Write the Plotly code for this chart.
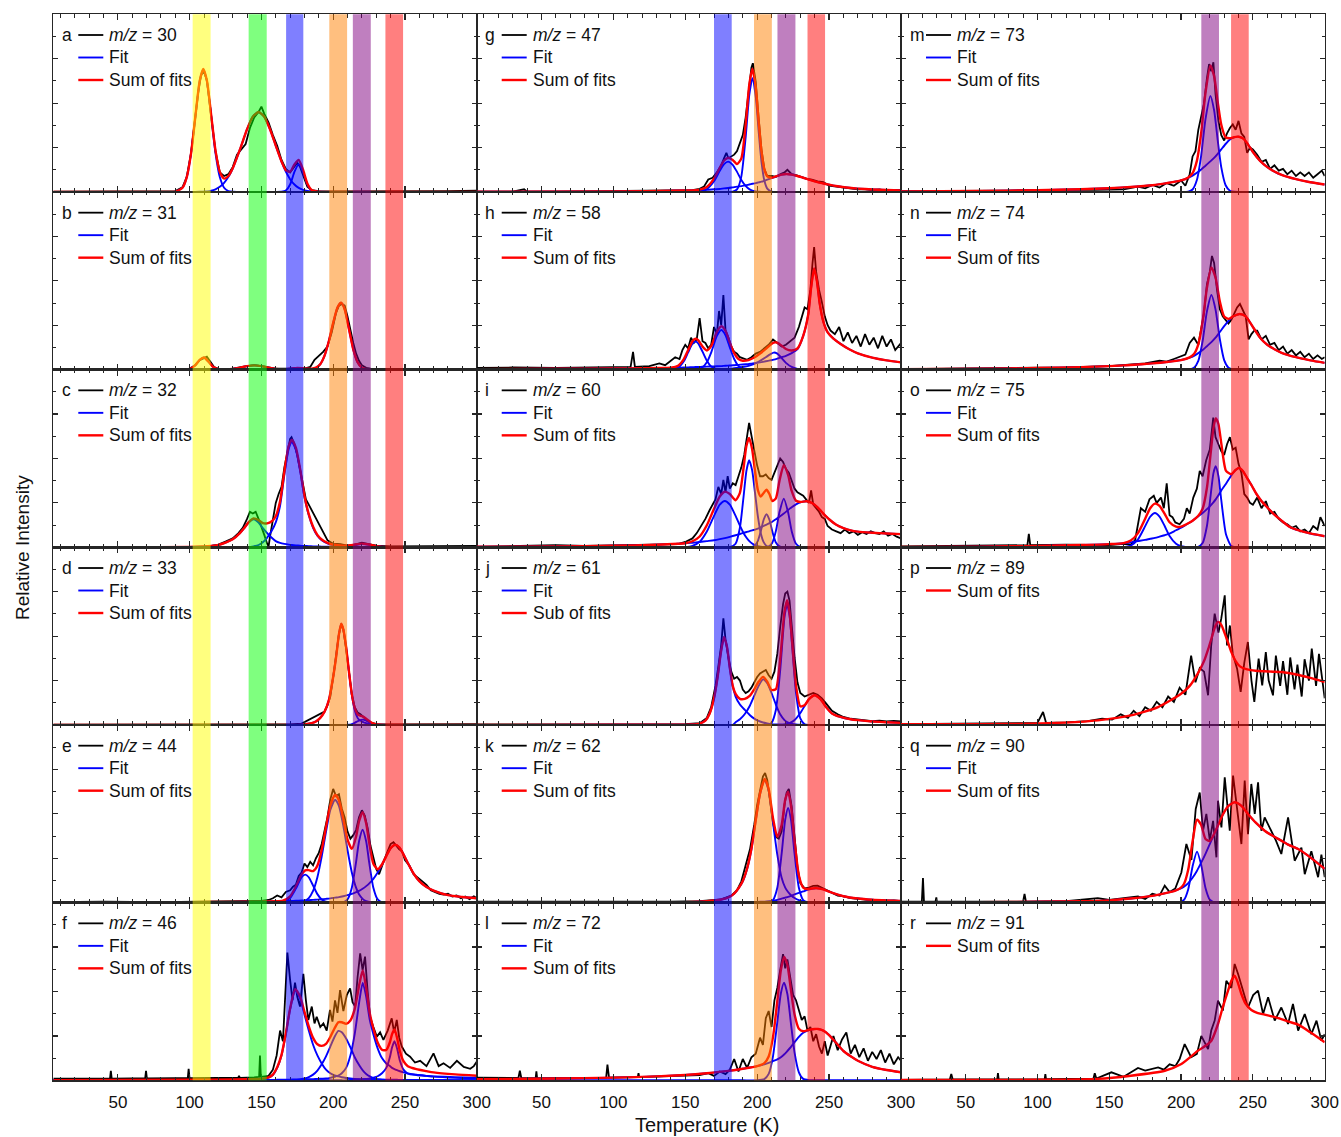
import numpy as np
import plotly.graph_objects as go

# ---------------- data (temperature in K, intensity in % of panel height) ----------------
# panel a, m/z 30
A_T = [5, 60, 85, 90, 95, 98, 101, 104, 107, 109.5, 112, 115, 118, 121, 124, 127, 130, 135, 140, 144, 148, 152, 156, 160, 164, 167, 170, 173, 176, 179, 182, 185, 190, 200, 250, 300]
A_FIT1 = [0, 0, 0, 0.2, 2.4, 8.4, 21.9, 42.6, 62.4, 69, 62.4, 42.6, 21.9, 8.4, 2.4, 0.5, 0.1, 0, 0, 0, 0, 0, 0, 0, 0, 0, 0, 0, 0, 0, 0, 0, 0, 0, 0, 0]
A_FIT2 = [0, 0, 0, 0, 0, 0, 0, 0, 0.1, 0.2, 0.3, 0.7, 1.5, 2.9, 5.1, 8.5, 13.2, 23.8, 35.3, 42.4, 45, 42.4, 35.3, 26.1, 17.1, 11.5, 7.2, 4.2, 2.3, 1.2, 0.6, 0.3, 0.1, 0, 0, 0]
A_FIT3 = [0, 0, 0, 0, 0, 0, 0, 0, 0, 0, 0, 0, 0, 0, 0, 0, 0, 0, 0, 0, 0, 0, 0, 0, 0.1, 0.8, 4.2, 11.3, 15.7, 11.3, 4.2, 0.8, 0, 0, 0, 0]
A_DATA_T = [5, 50, 85, 90, 95, 98, 101, 104, 106, 108, 110, 112, 115, 118, 121, 124, 127, 130, 133, 136, 139, 142, 145, 148, 150, 152, 155, 158, 161, 164, 167, 170, 173, 175, 177, 179, 182, 185, 190, 200, 250, 280, 300]
A_DATA = [0.2, 0.2, 0.3, 0.5, 2.6, 8.5, 22, 43, 56, 66, 67.5, 63, 44, 23, 11, 9, 10, 14, 21, 24, 27, 36, 42, 45, 48, 44, 39, 32, 26, 18, 13, 11, 14, 16.5, 14, 10, 3, 1, 0.5, 0.3, 0.2, 0.5, 0.8]

# panel b, m/z 31
B_T = [5, 60, 95, 100, 104, 107, 110, 113, 116, 120, 125, 130, 135, 140, 145, 150, 155, 160, 165, 170, 175, 180, 185, 188, 191, 194, 197, 200, 203, 205.5, 208, 211, 214, 217, 220, 224, 228, 235, 250, 300]
B_FIT1 = [0, 0, 0, 0.4, 2.6, 5.5, 6.8, 4.6, 1.8, 0.2, 0, 0, 0, 0, 0, 0, 0, 0, 0, 0, 0, 0, 0, 0, 0, 0, 0, 0, 0, 0, 0, 0, 0, 0, 0, 0, 0, 0, 0, 0]
B_FIT2 = [0, 0, 0, 0, 0, 0, 0, 0, 0, 0, 0.1, 0.4, 1.1, 2.0, 2.4, 2.0, 1.1, 0.4, 0.1, 0, 0, 0, 0, 0, 0, 0, 0, 0, 0, 0, 0, 0, 0, 0, 0, 0, 0, 0, 0, 0]
B_FIT3 = [0, 0, 0, 0, 0, 0, 0, 0, 0, 0, 0, 0, 0, 0, 0, 0, 0, 0, 0.1, 0.5, 1.0, 0.7, 0.2, 0.1, 0, 0, 0, 0, 0, 0, 0, 0, 0, 0, 0, 0, 0, 0, 0, 0]
B_FIT4 = [0, 0, 0, 0, 0, 0, 0, 0, 0, 0, 0, 0, 0, 0, 0, 0, 0, 0, 0, 0, 0, 0, 0.3, 1.0, 3.1, 7.9, 16.1, 26.3, 35, 37.7, 34.0, 22.9, 11.4, 4.2, 1.1, 0.1, 0, 0, 0, 0]
B_DATA_T = [5, 60, 95, 100, 104, 107, 110, 112, 114, 117, 120, 130, 140, 145, 150, 160, 170, 175, 180, 184, 187, 190, 193, 196, 199, 202, 204, 206, 208, 210, 212, 214, 216, 218, 220, 223, 226, 230, 250, 270, 290, 300]
B_DATA = [0.3, 0.2, 0.2, 0.6, 2.5, 5.3, 6.5, 7.3, 5, 1.5, 0.4, 0.5, 2.0, 2.5, 2.0, 0.5, 0.6, 1.0, 0.6, 1.5, 5.5, 7.5, 10, 13, 21, 32, 36, 37, 36, 30, 22, 15, 9, 5, 2.5, 1.0, 0.5, 0.3, 0.2, 0.4, 0.5, 0.3]

# panel c, m/z 32
C_T = [5, 60, 100, 110, 115, 120, 125, 130, 135, 138, 141, 144.5, 148, 151, 154, 157, 160, 163, 166, 169, 171.2, 174, 177, 180, 183, 186, 189, 192, 196, 200, 205, 210, 215, 220, 225, 230, 240, 260, 300]
C_FIT1 = [0, 0, 0.2, 0.5, 0.8, 1.3, 2.6, 4.5, 8.0, 10.8, 14, 15.8, 14, 10.8, 8, 5.5, 3.5, 2.5, 1.9, 1.5, 1.3, 1.1, 0.9, 0.75, 0.65, 0.55, 0.45, 0.4, 0.35, 0.3, 0.25, 0.2, 0.15, 0.1, 0.1, 0.1, 0, 0, 0]
C_FIT2 = [0, 0, 0, 0, 0, 0, 0, 0, 0, 0, 0, 0.5, 1.3, 2.8, 5.5, 9, 14, 23.4, 40.8, 55.4, 59.3, 55, 43, 28.2, 18, 11, 6.5, 4, 2.2, 1.3, 0.8, 0.5, 0.3, 0.2, 0.1, 0, 0, 0, 0]
C_FIT3 = [0, 0, 0, 0, 0, 0, 0, 0, 0, 0, 0, 0, 0, 0, 0, 0, 0, 0, 0, 0, 0, 0, 0, 0, 0, 0, 0, 0, 0, 0, 0.05, 0.3, 1.1, 1.8, 1.4, 0.6, 0, 0, 0]
C_DATA_T = [5, 60, 100, 110, 115, 120, 125, 130, 134, 137, 140, 142, 144, 146, 148, 150, 152, 154, 155, 156, 158, 160, 162, 164, 166, 168, 170, 171, 173, 175, 177, 179, 181, 183, 185, 187, 189, 191, 193, 196, 200, 205, 210, 215, 220, 225, 230, 240, 260, 280, 300]
C_DATA = [0.2, 0.2, 0.2, 0.4, 0.8, 1.5, 3.3, 5, 8, 11, 16, 20, 19, 20, 16, 12, 7, 2, 0.5, 6, 16, 25, 30, 34, 45, 54, 61, 62, 58, 52, 44, 34, 27, 24, 21, 18, 15, 12, 9, 4, 2, 1.8, 1.0, 1.5, 2.6, 1.8, 1.0, 0.5, 0.6, 0.8, 0.8]

# panel d, m/z 33
D_T = [5, 60, 150, 175, 180, 185, 188, 191, 194, 197, 200, 202, 204, 205.6, 207, 209, 211, 213, 215, 217, 218, 220.5, 223, 226, 229, 233, 240, 260, 300]
D_FIT1 = [0, 0, 0, 0, 0.3, 1.0, 2, 4, 7.5, 14, 27, 38, 51, 57, 54, 44, 30, 17, 8.5, 4, 3, 1.8, 1.0, 0.5, 0.3, 0.1, 0, 0, 0]
D_FIT2 = [0, 0, 0, 0, 0, 0, 0, 0, 0, 0, 0, 0, 0, 0, 0, 0, 0.1, 0.5, 1.2, 2.1, 2.5, 3.0, 2.5, 1.2, 0.3, 0.05, 0, 0, 0]
D_DATA_T = [5, 60, 150, 170, 178, 182, 185, 188, 191, 194, 196, 198, 200, 202, 204, 205.6, 207, 209, 211, 213, 215, 217, 219, 221, 223, 226, 230, 240, 260, 280, 300]
D_DATA = [0.2, 0.2, 0.2, 0.3, 0.8, 2.5, 3.5, 5, 6.5, 7.5, 11, 16, 27, 38, 51, 56.5, 54, 43, 30, 17, 10, 7, 6, 4.5, 3, 1.5, 0.5, 0.3, 0.3, 0.4, 0.4]

# panel e, m/z 44
E_T = [5, 60, 100, 130, 150, 160, 165, 170, 174, 178, 180.5, 183, 186, 189, 192, 195, 198, 201.4, 204, 207, 210, 213, 216, 218, 220.5, 223, 225, 228, 231, 234, 237, 240, 243.3, 246, 249, 252, 256, 260, 265, 270, 280, 290, 300]
E_FIT1 = [0, 0, 0, 0, 0, 0, 0.3, 2.6, 7.9, 14.3, 15.8, 14.3, 9.6, 4.8, 1.8, 0.5, 0.1, 0, 0, 0, 0, 0, 0, 0, 0, 0, 0, 0, 0, 0, 0, 0, 0, 0, 0, 0, 0, 0, 0, 0, 0, 0, 0]
E_FIT2 = [0, 0, 0, 0, 0, 0, 0, 0, 0.1, 0.4, 1.1, 2.6, 6.6, 14.3, 25.9, 39.9, 52.2, 58, 54.5, 43.5, 29.5, 17.0, 8.3, 4.7, 2.1, 0.8, 0.4, 0.1, 0, 0, 0, 0, 0, 0, 0, 0, 0, 0, 0, 0, 0, 0, 0]
E_FIT3 = [0, 0, 0, 0, 0, 0, 0, 0, 0, 0, 0, 0, 0, 0, 0, 0, 0, 0, 0, 0.2, 1.8, 8.4, 23.1, 34.4, 41, 34.4, 23.1, 8.4, 1.8, 0.2, 0, 0, 0, 0, 0, 0, 0, 0, 0, 0, 0, 0, 0]
E_FIT4 = [0.09, 0.16, 0.26, 0.41, 0.6, 0.75, 0.85, 0.96, 1.08, 1.2, 1.3, 1.4, 1.55, 1.72, 1.9, 2.14, 2.4, 2.8, 3.1, 3.6, 4.2, 4.9, 5.9, 6.6, 7.8, 9.3, 10.7, 13.4, 17.0, 21.3, 26.2, 30.6, 32.6, 31.2, 27.2, 22.3, 16.4, 12.1, 8.8, 6.8, 4.2, 3.2, 2.5]
E_DATA_T = [5, 40, 80, 100, 120, 140, 150, 155, 158, 161, 164, 167, 170, 172, 174, 176, 178, 180, 182, 184, 186, 188, 190, 192, 194, 196, 198, 200, 202, 204, 206, 208, 210, 212, 214, 216, 218, 220, 222, 224, 226, 228, 230, 232, 234, 236, 238, 240, 242, 244, 246, 248, 250, 253, 256, 259, 262, 265, 268, 271, 274, 277, 280, 283, 286, 289, 292, 295, 298, 300]
E_DATA = [0.3, 0.5, 0.3, 0.5, 0.6, 0.8, 1.0, 1.5, 2.5, 4, 3, 6, 7, 9, 10, 15, 17, 22, 20, 23, 21, 25, 28, 33, 40, 48, 58, 64, 60, 61, 53, 48, 40, 36, 38, 41, 48, 52, 49, 42, 32, 25, 19, 16, 21, 25, 29, 33, 34, 32, 30, 29, 24, 21, 16, 14, 12, 10, 7, 6, 5, 4.5, 5, 3.5, 4, 2.5, 3.5, 2, 3.5, 2.5]

# panel f, m/z 46
F_T = [5, 100, 150, 155, 158, 161, 164, 167, 170, 173.5, 177, 180, 183, 186, 189, 192, 195, 198, 201, 203.6, 206, 209, 212, 215, 218.5, 220.6, 223, 225.5, 228, 231, 234, 237, 239.5, 241, 242.7, 244.5, 246.5, 249, 252, 258, 265, 270, 285, 300]
F_FIT1 = [0.1, 0.2, 0.7, 1.5, 3, 7, 14, 26, 40, 50.8, 46, 37, 28, 20, 14, 9.5, 6, 4, 2.8, 2.2, 1.7, 1.3, 1.0, 0.8, 0.65, 0.6, 0.55, 0.5, 0.45, 0.4, 0.35, 0.33, 0.31, 0.3, 0.3, 0.28, 0.27, 0.25, 0.23, 0.2, 0.18, 0.16, 0.13, 0.1]
F_FIT2 = [0, 0, 0, 0, 0, 0, 0, 0, 0, 0, 0.5, 1.0, 1.8, 3.2, 5.5, 9, 13.5, 19, 24.5, 27.8, 27, 23.5, 18.5, 13, 8, 5.6, 3.6, 2.2, 1.2, 0.6, 0.4, 0.2, 0.1, 0.1, 0, 0, 0, 0, 0, 0, 0, 0, 0, 0]
F_FIT3 = [0, 0.1, 0.2, 0.2, 0.25, 0.3, 0.3, 0.35, 0.4, 0.45, 0.5, 0.55, 0.6, 0.7, 0.8, 0.9, 1.0, 1.4, 2.0, 2.7, 4, 7, 14, 26, 46, 55, 47, 34, 26, 18, 12.5, 9.5, 8, 7, 6.3, 5.7, 5.1, 4.5, 3.9, 3.1, 2.5, 2.1, 1.4, 1.0]
F_FIT4 = [0, 0, 0, 0, 0, 0, 0, 0, 0, 0, 0, 0, 0, 0, 0, 0, 0, 0, 0, 0, 0, 0, 0.2, 0.3, 0.5, 0.6, 0.8, 1.0, 1.5, 2.3, 4, 7, 13, 18.5, 22, 18, 11, 6, 3.8, 3.0, 2.5, 2.2, 1.8, 1.5]
F_DATA_T = [5, 30, 44.5, 45.1, 45.7, 60, 69, 69.6, 70.2, 90, 98.7, 99.3, 99.9, 120, 133.8, 134.4, 135, 145, 148.4, 149, 149.6, 155, 158, 160.6, 163, 165, 168.1, 170, 171.7, 173.4, 175, 176.9, 179.2, 181, 182.7, 185.1, 187, 188.5, 191, 193.2, 195.5, 197.8, 199.5, 201.3, 203, 204.8, 207.1, 209.5, 211.8, 213.5, 215.3, 217, 218.8, 220.5, 222.2, 224, 225.7, 228, 230.4, 232.7, 235, 238, 240.8, 242.5, 244.3, 246, 247.8, 250.7, 253.6, 257, 260.6, 265, 269.9, 273.5, 276.9, 281.5, 286.2, 291, 295.5, 298, 300]
F_DATA = [1.0, 1.0, 1.0, 5.4, 1.0, 1.1, 1.1, 5.4, 1.1, 1.2, 1.2, 6.4, 1.2, 1.3, 1.3, 2.6, 1.3, 1.6, 2, 13.9, 2, 2.5, 6, 14, 28, 22, 71.9, 56.5, 45, 55, 47, 41.5, 60, 45, 34, 41.5, 32, 35.8, 30, 32, 28, 39.6, 33, 45, 38, 50.8, 39, 48, 51.8, 44, 41.5, 58, 71.5, 62, 69.6, 50, 35.8, 30, 24.6, 27, 22.7, 28, 34.9, 27, 34, 24, 19, 15, 13.3, 10, 11, 8, 15.2, 8, 9.6, 7, 11, 7.5, 6.5, 8, 10.5]

# panel g, m/z 47
G_T = [5, 100, 150, 155, 160, 165, 170, 174, 177, 179.8, 183, 186, 189, 192, 194.5, 196.7, 199, 201, 203, 205, 207, 210, 214, 217, 220.3, 224, 228, 232, 236, 240, 245, 250, 256, 262, 270, 280, 290, 300]
G_FIT1 = [0, 0, 0, 0, 0.2, 1.6, 6.0, 11.9, 15.7, 17.1, 15.3, 11.3, 6.8, 3.4, 1.6, 0.8, 0.3, 0.1, 0, 0, 0, 0, 0, 0, 0, 0, 0, 0, 0, 0, 0, 0, 0, 0, 0, 0, 0, 0]
G_FIT2 = [0, 0, 0, 0, 0, 0, 0, 0, 0, 0, 0.1, 1.4, 8.8, 30.8, 54.5, 64, 53.6, 34.5, 17, 6.4, 1.9, 0.2, 0, 0, 0, 0, 0, 0, 0, 0, 0, 0, 0, 0, 0, 0, 0, 0]
G_FIT3 = [0.1, 0.3, 0.8, 0.9, 1.1, 1.2, 1.5, 1.7, 2.0, 2.2, 2.6, 3.0, 3.3, 3.7, 4.2, 4.6, 5.0, 5.4, 5.8, 6.3, 6.9, 7.8, 9.0, 9.8, 10.1, 9.8, 9.0, 8.0, 7.0, 6.0, 5.0, 4.1, 3.2, 2.5, 1.9, 1.4, 1.1, 0.9]
G_DATA_T = [5, 30, 38, 40, 60, 100, 140, 155, 160, 163, 166, 169, 172, 175, 177, 178.6, 180, 182, 184, 186, 188, 190, 192, 194, 196, 197, 199, 201, 203, 205, 207, 210, 213, 216, 219, 221, 224, 227, 230, 234, 238, 242, 246, 250, 255, 260, 265, 270, 275, 280, 285, 290, 295, 300]
G_DATA = [0.2, 0.2, 1.5, 0.2, 0.2, 0.4, 0.7, 1.0, 1.8, 3, 7, 8, 11, 15, 19, 22, 19, 20, 21, 23, 27, 32, 42, 58, 70, 72.5, 62, 42, 24, 13, 9, 9, 8.5, 10, 11, 12.5, 10, 9.5, 8.5, 7.5, 7, 6, 5.5, 3.5, 3, 2.5, 2.3, 1.5, 1.5, 1.0, 1.4, 0.6, 1.2, 1.0]

# panel h, m/z 58
H_T = [5, 60, 100, 120, 130, 140, 145, 149, 152, 155, 157.1, 159, 162, 165, 168, 172, 175.1, 178, 181, 184, 187, 190, 194, 198, 202, 206, 209, 211.5, 214, 217, 220, 224, 228, 232, 235.5, 237.5, 239.6, 241.5, 243.5, 246, 249, 253, 258, 264, 270, 280, 290, 300]
H_FIT1 = [0, 0, 0, 0, 0, 0.1, 1.1, 4.7, 9.7, 14.6, 15.8, 14.8, 10.1, 5.0, 1.8, 0.3, 0, 0, 0, 0, 0, 0, 0, 0, 0, 0, 0, 0, 0, 0, 0, 0, 0, 0, 0, 0, 0, 0, 0, 0, 0, 0, 0, 0, 0, 0, 0, 0]
H_FIT2 = [0, 0, 0, 0, 0, 0, 0, 0, 0, 0, 0.1, 0.3, 1.3, 4.1, 9.6, 19, 22.3, 19.4, 12.5, 6.0, 2.1, 0.6, 0.1, 0, 0, 0, 0, 0, 0, 0, 0, 0, 0, 0, 0, 0, 0, 0, 0, 0, 0, 0, 0, 0, 0, 0, 0, 0]
H_FIT3 = [0, 0, 0, 0, 0, 0, 0, 0, 0, 0, 0, 0, 0, 0, 0, 0, 0.1, 0.2, 0.4, 0.8, 1.2, 1.5, 2.1, 3.2, 5.0, 7.0, 8.6, 9.6, 9.0, 6.5, 3.8, 1.5, 0.4, 0, 0, 0, 0, 0, 0, 0, 0, 0, 0, 0, 0, 0, 0, 0]
H_FIT4 = [0.3, 0.5, 0.6, 0.8, 0.9, 1.0, 1.1, 1.2, 1.3, 1.4, 1.45, 1.5, 1.6, 1.7, 1.8, 1.9, 2.0, 2.2, 2.3, 2.5, 2.7, 2.9, 3.2, 3.6, 4.1, 4.7, 5.2, 5.6, 6.2, 7.0, 7.8, 9.3, 11.5, 19, 31, 46, 57, 50, 37, 27, 21, 17.5, 14.5, 11.5, 9.2, 6.8, 5.2, 4.1]
H_DATA_T = [5, 30, 60, 90, 105, 112, 113.7, 115, 125, 132, 136, 140, 143, 146, 148, 150, 152, 154, 156, 158, 160, 162, 164, 166, 168, 170, 172, 173.5, 175, 176.5, 178, 180, 182, 184, 186, 188, 190, 193, 196, 199, 202, 205, 208, 211, 214, 217, 220, 223, 226, 229, 231, 233, 235, 237, 238.5, 239.6, 241, 243, 245, 247, 249, 251, 254, 257, 260, 263, 266, 269, 272, 275, 278, 281, 284, 287, 290, 293, 296, 300]
H_DATA = [1.0, 1.2, 1.0, 1.3, 1.2, 1.5, 10, 1.5, 2, 3.5, 2.5, 5, 7, 6, 11, 14, 12, 18, 15, 17, 29, 16, 15, 12, 14, 24, 20, 33, 25, 42, 22, 18, 13, 10, 9, 7, 6.5, 5.5, 7, 9, 10, 12, 14, 17, 15, 13, 14, 16, 18, 24, 30, 35, 34, 45, 60, 69, 55, 45, 38, 30, 25, 22, 20, 24, 16, 21, 15, 19, 13, 20, 14, 18, 12, 19, 13, 17, 11, 15]

# panel i, m/z 60
I_T = [5, 60, 100, 130, 145, 150, 155, 160, 165, 170, 174, 177.5, 181, 185, 188, 190.5, 192.5, 194.4, 196.5, 198.5, 200.5, 202.5, 204.5, 206.5, 208.5, 210.5, 213, 215.5, 218.5, 221.5, 224, 227, 230, 234.3, 238, 242, 246, 250, 255, 260, 265, 270, 280, 290, 300]
I_FIT1 = [0, 0, 0, 0, 0, 0.1, 0.8, 3.1, 8.9, 17.7, 24.0, 26.1, 24.0, 17.7, 12.2, 8.1, 5.5, 3.6, 2.1, 1.2, 0.7, 0.4, 0.2, 0.1, 0, 0, 0, 0, 0, 0, 0, 0, 0, 0, 0, 0, 0, 0, 0, 0, 0, 0, 0, 0, 0]
I_FIT2 = [0, 0, 0, 0, 0, 0, 0, 0, 0, 0, 0, 0, 0.1, 2.0, 11, 28.2, 42.9, 49, 43.4, 30.7, 17.4, 7.9, 2.9, 0.8, 0.2, 0, 0, 0, 0, 0, 0, 0, 0, 0, 0, 0, 0, 0, 0, 0, 0, 0, 0, 0, 0]
I_FIT3 = [0, 0, 0, 0, 0, 0, 0, 0, 0, 0, 0, 0, 0, 0, 0, 0, 0, 0, 0.2, 1.0, 3.6, 9.0, 15.5, 18.6, 15.5, 9.0, 2.7, 0.5, 0, 0, 0, 0, 0, 0, 0, 0, 0, 0, 0, 0, 0, 0, 0, 0, 0]
I_FIT4 = [0, 0, 0, 0, 0, 0, 0, 0, 0, 0, 0, 0, 0, 0, 0, 0, 0, 0, 0, 0, 0, 0, 0, 0.1, 0.7, 2.6, 9.1, 19.7, 27.4, 19.7, 9.1, 2.0, 0.2, 0, 0, 0, 0, 0, 0, 0, 0, 0, 0, 0, 0]
I_FIT5 = [0.3, 0.5, 0.9, 1.4, 2.0, 2.2, 2.6, 3.0, 3.5, 4.0, 4.6, 5.2, 5.9, 6.8, 7.5, 8.1, 8.6, 9.0, 9.5, 10.0, 10.5, 11.3, 12.0, 12.8, 13.6, 14.4, 15.8, 17.2, 19.0, 21.0, 22.6, 24.2, 25.3, 25.9, 25.0, 22.5, 19, 15.8, 12.7, 10.8, 9.5, 8.8, 8.2, 7.8, 7.4]
I_DATA_T = [5, 40, 60, 80, 100, 130, 145, 150, 155, 158, 161, 164, 167, 169, 171, 173, 175, 176.5, 178, 179.5, 181, 183, 185, 187, 189, 191, 193, 194.4, 196, 198, 200, 202, 204, 206, 208, 210, 212, 214, 216, 218, 220, 222, 224, 226, 228, 230, 232, 234, 236, 237.5, 239, 241, 243, 245, 247, 249, 252, 255, 258, 261, 264, 267, 270, 273, 276, 279, 282, 285, 288, 291, 294, 297, 300]
I_DATA = [0.3, 0.8, 1.2, 0.8, 1.0, 1.3, 1.8, 3, 5, 8, 12, 16, 21, 24, 27, 34, 30, 38, 31, 40, 33, 36, 35, 40, 45, 52, 62, 70, 63, 54, 46, 40, 40, 41, 39, 38, 42, 46, 50, 48, 44, 42, 37, 33, 31, 30, 29, 27, 25, 32, 24, 22, 20, 17, 16, 12, 10, 9, 8, 10, 8, 9, 7, 8.5, 7.5, 9, 8, 7.5, 9, 6.5, 7.5, 6, 5]

# panel j, m/z 61
J_T = [5, 100, 150, 155, 160, 164, 167, 170, 172.5, 175, 177, 179, 181, 183, 185, 188, 191.4, 195, 198, 201, 204.1, 207, 210, 213, 216, 219, 220.8, 222.5, 224.5, 227, 230, 233, 236, 240, 244, 248, 252, 258, 265, 270, 280, 290, 300]
J_FIT1 = [0, 0.1, 0.2, 0.3, 0.8, 2.5, 6.5, 15, 27, 42, 49.5, 44, 32, 22, 16, 11.5, 8.5, 5.5, 3.6, 2.3, 1.4, 0.9, 0.5, 0.3, 0.2, 0.1, 0.1, 0, 0, 0, 0, 0, 0, 0, 0, 0, 0, 0, 0, 0, 0, 0, 0]
J_FIT2 = [0, 0, 0, 0, 0, 0, 0, 0, 0, 0, 0, 0, 0, 0, 1.5, 3.2, 6.2, 11, 16.5, 22, 25.7, 23.5, 18, 11.5, 6, 2.7, 1.6, 1.0, 0.6, 0.3, 0.1, 0, 0, 0, 0, 0, 0, 0, 0, 0, 0, 0, 0]
J_FIT3 = [0, 0, 0, 0, 0, 0, 0, 0, 0, 0, 0, 0, 0, 0, 0, 0, 0, 0, 0, 0, 0, 0, 1.2, 8.4, 30.7, 60.7, 68, 61.5, 42.5, 18.1, 3.7, 0.4, 0, 0, 0, 0, 0, 0, 0, 0, 0, 0, 0]
J_FIT4 = [0, 0, 0, 0, 0, 0, 0, 0, 0, 0, 0, 0, 0, 0, 0, 0, 0, 0, 0, 0, 0, 0, 0, 0, 0.1, 0.3, 0.6, 1.0, 1.9, 3.6, 6.7, 10.7, 14.5, 16.7, 14.5, 10, 6.5, 4.5, 3.2, 2.7, 2.0, 1.5, 1.2]
J_DATA_T = [5, 100, 150, 160, 165, 168, 171, 173, 175, 176.5, 178, 180, 182, 184, 186, 188, 190, 192, 194, 196, 198, 200, 202, 204, 206, 208, 210, 212, 214, 216, 218, 219.5, 221, 222.5, 224, 226, 228, 230, 233, 236, 239, 242, 245, 248, 252, 256, 260, 265, 270, 275, 280, 285, 290, 295, 300]
J_DATA = [0.3, 0.3, 0.5, 1.0, 4, 10, 22, 33, 45, 60, 48, 38, 30, 26, 27, 25, 20, 18, 19, 21, 24, 27, 29, 30, 31, 28, 26, 30, 40, 55, 68, 74, 75, 70, 55, 38, 24, 18, 16, 17, 18, 17, 15, 12, 8, 6, 4.5, 3.5, 3, 2.5, 2.2, 2.5, 2.0, 2.3, 2.0]

# panel k, m/z 62
K_T = [5, 100, 150, 165, 175, 180, 184, 187, 190, 193, 196, 199, 202, 205.3, 208, 211, 214, 217, 219.5, 221.5, 223.5, 226, 229, 232, 235, 238, 241, 246, 250, 255, 260, 270, 280, 290, 300]
K_FIT1 = [0, 0.1, 0.3, 0.8, 1.8, 3, 5, 8, 12, 19, 30, 46, 61, 69, 63, 45, 27, 14, 8.5, 6, 4.2, 2.6, 1.4, 0.8, 0.4, 0.2, 0.1, 0, 0, 0, 0, 0, 0, 0, 0]
K_FIT2 = [0, 0, 0, 0, 0, 0, 0, 0, 0, 0, 0, 0, 0, 0, 0.1, 1.4, 8.4, 27.4, 46.7, 53.3, 46.7, 27.4, 8.4, 1.4, 0.1, 0, 0, 0, 0, 0, 0, 0, 0, 0, 0]
K_FIT3 = [0, 0, 0, 0, 0, 0, 0.1, 0.1, 0.2, 0.2, 0.3, 0.4, 0.5, 0.6, 0.8, 1.1, 1.6, 2.3, 2.8, 3.2, 3.8, 4.6, 5.5, 6.3, 7.2, 7.8, 8.1, 7.5, 6.2, 4.8, 3.6, 2.3, 1.6, 1.2, 0.9]
K_DATA_T = [5, 60, 100, 140, 160, 175, 182, 186, 189, 192, 195, 198, 200, 202, 204, 205.5, 207, 209, 211, 213, 215, 217, 219, 220.5, 222, 224, 226, 228, 230, 233, 236, 239, 242, 245, 248, 252, 256, 260, 265, 270, 275, 280, 285, 290, 295, 300]
K_DATA = [0.5, 0.3, 0.5, 0.5, 0.8, 1.8, 4, 7, 12, 21, 30, 44, 55, 63, 71, 73, 69, 57, 45, 37, 36, 40, 55, 62, 64, 54, 35, 20, 11, 8, 8.5, 9.5, 9.6, 8.5, 7, 5.5, 4, 3.5, 2.5, 2.2, 1.8, 1.3, 1.5, 1.0, 1.2, 0.9]

# panel l, m/z 72
L_T = [5, 60, 100, 130, 150, 165, 180, 190, 200, 205, 208, 211, 214, 216.5, 218.7, 221, 223.5, 226, 229, 232, 236, 240, 242.4, 246, 250, 255, 260, 265, 270, 280, 290, 300]
L_FIT1 = [0, 0, 0, 0, 0, 0, 0, 0, 0, 0.7, 3.6, 13.5, 32.7, 49, 55, 48.6, 31.8, 15.6, 4.5, 0.8, 0.1, 0, 0, 0, 0, 0, 0, 0, 0, 0, 0, 0]
L_FIT2 = [0.6, 1.0, 1.5, 2.2, 3.0, 4.0, 5.3, 6.5, 8.0, 9.0, 9.8, 10.8, 11.8, 13, 14.5, 16.5, 18.8, 21.5, 24.5, 26.8, 28.3, 28.9, 28.9, 28, 25.5, 21, 16.5, 13.5, 11, 7.6, 5.8, 4.5]
L_DATA_T = [5, 20, 34, 35, 36, 46, 46.5, 47, 60, 80, 95, 95.9, 97, 117, 117.5, 118, 140, 160, 166, 170, 174, 178, 181, 184, 187, 190, 193, 196, 199, 202, 204, 206, 208, 210, 212, 214, 216, 218, 219.5, 221, 223, 225, 227, 229, 231, 233, 235, 237, 239, 241, 243, 245, 247, 249, 251, 253, 256, 259, 262, 265, 268, 271, 274, 277, 280, 283, 286, 289, 292, 295, 298, 300]
L_DATA = [1.5, 1.2, 1.3, 5.4, 1.3, 1.2, 5.0, 1.2, 1.3, 1.5, 1.5, 8.8, 1.5, 1.8, 4, 1.8, 2.5, 3, 4, 2.5, 5, 3.5, 6, 12, 5, 12, 7, 13, 15, 24, 20, 35, 39, 30, 45, 52, 62, 71, 63, 68, 58, 48, 45, 40, 34, 36, 28, 30, 22, 26, 19, 15, 22, 14, 20, 25, 17, 23, 27, 15, 20, 13, 18, 11, 16, 12, 17, 10, 15, 9, 13, 11]

# panel m, m/z 73
M_T = [5, 60, 100, 130, 150, 165, 180, 190, 200, 205, 208, 211, 214, 217, 220.4, 223, 225.5, 228, 231, 234, 237, 240.1, 243, 246, 250, 255, 260, 265, 270, 280, 290, 300]
M_FIT1 = [0, 0, 0, 0, 0, 0, 0, 0, 0, 0.2, 1.4, 6.7, 20.5, 41, 54, 46, 29.2, 13.8, 3.8, 0.7, 0.1, 0, 0, 0, 0, 0, 0, 0, 0, 0, 0, 0]
M_FIT2 = [0.3, 0.6, 1.0, 1.5, 2.1, 2.8, 3.8, 5.0, 6.5, 8.0, 9.2, 10.8, 12.7, 14.8, 17.2, 19.2, 21.5, 24, 27, 29.5, 30.8, 31.1, 30.2, 27.5, 22.5, 17.5, 14, 11.5, 9.6, 7.2, 5.5, 4.2]
M_DATA_T = [5, 40, 80, 100, 120, 140, 160, 170, 175, 180, 185, 190, 195, 200, 203, 206, 208, 210, 212, 214, 216, 218, 219.5, 221, 222.5, 224, 226, 228, 230, 232, 234, 236, 238, 240, 242, 244, 246, 248, 250, 253, 256, 259, 262, 265, 268, 271, 274, 277, 280, 283, 286, 289, 292, 295, 298, 300]
M_DATA = [0.5, 0.5, 0.8, 1.2, 1.0, 1.2, 1.5, 3.0, 2.0, 4.0, 2.5, 5.0, 3.5, 6.5, 3.5, 10, 20, 23, 35, 42, 50, 64, 72, 68, 73, 55, 40, 32, 29, 33, 36, 38, 35, 40, 33, 31, 22, 25, 24, 21, 17, 18, 13, 15, 12, 13, 10, 12, 9, 11, 9, 11, 8, 10, 12, 9]

# panel n, m/z 74
N_T = [5, 60, 100, 130, 150, 165, 180, 190, 200, 206, 209, 212, 215, 218, 221.1, 224, 227, 230, 233, 236, 240.8, 245, 250, 255, 260, 265, 270, 280, 290, 300]
N_FIT1 = [0, 0, 0, 0, 0, 0, 0, 0, 0, 0.1, 1.0, 4.9, 16.1, 32.8, 42, 33.8, 17.1, 5.4, 1.1, 0.1, 0, 0, 0, 0, 0, 0, 0, 0, 0, 0]
N_FIT2 = [0.3, 0.5, 0.9, 1.4, 2.0, 2.6, 3.5, 4.3, 5.4, 6.8, 7.8, 9.3, 11, 13.2, 15.5, 18, 21.2, 24.5, 27.5, 29.8, 31.3, 30, 24, 18, 14, 11.5, 9.5, 7, 5.2, 3.8]
N_DATA_T = [5, 40, 80, 120, 150, 165, 175, 185, 190, 195, 200, 203, 206, 209, 212, 214, 216, 218, 220, 221.5, 223, 225, 227, 229, 231, 233, 235, 237, 239, 241, 243, 245, 247, 249, 251, 253, 256, 259, 262, 265, 268, 271, 274, 277, 280, 283, 286, 289, 292, 295, 298, 300]
N_DATA = [0.3, 0.5, 0.6, 1.2, 2.0, 3.0, 3.5, 5.0, 4.5, 6.0, 7.5, 8.5, 15, 18, 14, 22, 32, 48, 55, 64, 60, 45, 34, 30, 28, 26, 28, 32, 35, 37, 33, 30, 17, 20, 22, 22, 17, 19, 14, 15, 11, 13, 9, 11, 8, 10, 7, 9, 6, 8, 6, 7]

# panel o, m/z 75
O_T = [5, 60, 100, 130, 150, 160, 165, 170, 175, 178.5, 181.8, 185, 188.5, 192, 196.5, 200, 203, 208, 212, 215, 218, 220.5, 222.5, 224.1, 226, 228, 231.3, 235, 238, 240.5, 243, 246, 249, 252.5, 256, 260, 264.2, 270, 275.8, 282, 290, 300]
O_FIT1 = [0, 0, 0, 0, 0, 0.1, 1.0, 4.5, 11.9, 17.2, 19.3, 17.3, 12.1, 6.4, 2.0, 0.6, 0.2, 0, 0, 0, 0, 0, 0, 0, 0, 0, 0, 0, 0, 0, 0, 0, 0, 0, 0, 0, 0, 0, 0, 0, 0, 0]
O_FIT2 = [0, 0, 0, 0, 0, 0, 0, 0, 0, 0, 0, 0, 0, 0, 0, 0, 0, 0, 0.3, 2.4, 12, 28.7, 41.6, 45.6, 40.1, 26.5, 7.2, 0.7, 0.1, 0, 0, 0, 0, 0, 0, 0, 0, 0, 0, 0, 0, 0]
O_FIT3 = [0.2, 0.4, 0.8, 1.3, 1.8, 2.3, 2.8, 3.5, 4.2, 4.8, 5.3, 6.0, 6.8, 7.7, 9.6, 11, 12.5, 15, 17.5, 19.3, 21.5, 23.5, 25.3, 27, 29.3, 32, 35.8, 40.5, 43.5, 44.7, 43, 39, 35, 30, 26, 22.5, 19, 15, 11.4, 9.5, 7.8, 6.2]
O_DATA_T = [5, 40, 80, 93, 94, 95, 120, 150, 160, 165, 168, 170, 172, 175, 178, 181, 183, 186, 188, 190, 192, 194, 196, 199, 202, 204, 206, 208.5, 211, 213, 215, 217.5, 220, 222.4, 224, 226, 228, 230, 232, 234, 236, 238, 240, 242, 244, 246, 248, 250, 253, 256, 259, 262, 265, 268, 271, 274, 277, 280, 283, 286, 289, 292, 295, 297, 300]
O_DATA = [0.5, 0.8, 1.0, 1.2, 7.5, 1.2, 1.5, 1.2, 2.0, 1.5, 4, 14, 22, 20, 27, 29, 25, 28, 22, 36, 18, 17, 14, 13, 16, 22, 19, 28, 33, 43, 40, 49, 55, 73, 62, 58, 54, 52, 58, 62, 55, 56, 47, 42, 30, 28, 25, 24, 28, 22, 26, 19, 20, 16, 14, 13, 11, 12, 9, 10, 8, 12, 10, 17, 12]

# panel p, m/z 89 (sum of fits only)
P_SUM_T = [5, 60, 95, 119, 142, 165, 184, 200, 206, 212, 216, 219, 222, 224, 225.7, 227.5, 229.2, 232, 235, 238, 241, 246, 252, 258, 264, 270, 281, 290, 300]
P_SUM = [0.4, 0.5, 0.7, 1.3, 2.6, 5.4, 10.1, 17.6, 22, 29.5, 36, 43, 51, 56, 58, 57, 54.2, 48, 41, 36, 33, 31.3, 30.5, 30.2, 30, 29.8, 28.3, 26.5, 24.2]
P_DATA_T = [5, 40, 80, 100, 103.9, 106, 120, 135, 145, 152, 158, 163, 167, 171, 175, 179, 183, 187, 191, 195, 199, 203, 207, 210, 213, 216, 218.8, 221, 223.4, 226, 228, 230.4, 232, 234, 236, 239, 241.5, 244, 246.5, 249, 251, 254, 256.5, 259, 261, 264, 266, 269, 271, 274, 276, 279, 281, 284, 286, 289, 291, 294, 296, 300]
P_DATA = [0.5, 0.8, 1.0, 1.2, 7.3, 1.2, 1.5, 2.2, 3.5, 3, 6, 4, 8, 5, 10, 8, 13, 10, 16, 13, 21, 17, 39, 24, 32, 30, 16.7, 45, 62.7, 52, 60, 73, 44.8, 56, 40, 31.7, 18.6, 35, 46.7, 25, 13, 37.3, 22.3, 41, 25, 16.7, 39, 22, 36, 17, 38, 20, 34, 16, 37, 25, 43, 22, 40, 15]

# panel q, m/z 90
Q_T = [5, 60, 100, 130, 150, 165, 180, 190, 196, 199, 202, 205, 208, 211.1, 214, 217, 220, 223, 226, 229, 233, 237.3, 242, 246.6, 252, 258.2, 264, 269.8, 275, 281.5, 290, 300]
Q_FIT1 = [0, 0, 0, 0, 0, 0, 0, 0, 0, 0.2, 1.5, 7.6, 20.4, 28.7, 21.3, 8.3, 1.7, 0.2, 0, 0, 0, 0, 0, 0, 0, 0, 0, 0, 0, 0, 0, 0]
Q_FIT2 = [0.2, 0.3, 0.5, 0.8, 1.3, 2.3, 3.8, 5.5, 6.8, 7.7, 9, 11, 14, 18, 22.5, 27.5, 33, 38.5, 44, 49.5, 54.5, 56.5, 54.5, 49.9, 45, 40.5, 37.5, 34.9, 32.5, 30.2, 25.5, 19]
Q_DATA_T = [5, 19.5, 20.3, 21, 29, 29.6, 30, 60, 90, 91, 92, 120, 142, 150, 160, 170, 175, 180, 185, 188.6, 192, 196, 200.2, 203.7, 207.2, 210.2, 213, 215.3, 217.6, 220, 222.3, 224.6, 225.7, 228.1, 230.4, 233.9, 236.2, 238.5, 242, 244.3, 246.6, 248.9, 251.3, 253.6, 255.9, 258.2, 262.9, 266, 269.8, 274.5, 279.1, 283.8, 286.1, 290.7, 295.4, 297.7, 300]
Q_DATA = [0.5, 0.5, 13.9, 0.5, 0.5, 3, 0.5, 0.5, 0.6, 4.9, 0.6, 0.8, 2.5, 1.5, 2.5, 3.5, 2, 5, 4, 9.6, 6, 8, 17, 33, 24, 52.7, 62, 40.5, 50, 35, 46, 25.5, 57.4, 42.4, 70.5, 40.5, 71.5, 57.4, 33, 68.7, 38.6, 66.8, 50, 67.7, 40.5, 48, 40.5, 35, 27.4, 48, 23.6, 31, 16, 29, 14.3, 27, 14.3]

# panel r, m/z 91 (sum of fits only)
R_SUM_T = [5, 60, 100, 142, 165, 188.6, 200.2, 211.8, 218, 221.1, 225.7, 229, 232.7, 235, 237.3, 239.5, 242, 245, 248.9, 253, 258.2, 264, 269.8, 275, 281.5, 290, 300]
R_SUM = [0.2, 0.2, 0.3, 0.8, 2.6, 5.4, 9.2, 16.7, 20, 22.3, 31.7, 41, 50.5, 56, 58.9, 55, 48.6, 43, 39.6, 38, 37, 35.8, 34.5, 33, 31.3, 27, 21.4]
R_DATA_T = [5, 39, 40, 41, 72, 72.5, 73, 100, 105, 105.5, 106, 139, 139.9, 141, 151.5, 160, 166, 170, 175, 180, 184, 188, 192, 196, 199, 202.5, 207, 211, 214.1, 218.8, 221, 223.4, 225.7, 229.1, 231.5, 235, 237.3, 239.7, 243.1, 246.6, 250.2, 253.6, 257.1, 260.6, 265.2, 269.8, 274.5, 277.9, 281.5, 286.1, 290.7, 294.3, 297.7, 300]
R_DATA = [0.3, 0.5, 3.6, 0.5, 0.5, 4, 0.5, 0.5, 0.6, 3.5, 0.6, 1.0, 4, 1.0, 4.5, 2, 5, 7, 5.5, 6.5, 7.3, 6, 9, 8, 12, 20.4, 13, 14.8, 25, 17.6, 28, 33.6, 44.8, 39.2, 56, 52, 65.5, 59.8, 50.5, 41, 48, 50.5, 37.3, 46.7, 33.6, 41, 31.7, 43, 28, 37.3, 26, 33.6, 22.3, 26]

# panel labels and mass-to-charge values
LETTERS = ["a", "b", "c", "d", "e", "f", "g", "h", "i", "j", "k", "l", "m", "n", "o", "p", "q", "r"]
MZ = ["30", "31", "32", "33", "44", "46", "47", "58", "60", "61", "62", "72", "73", "74", "75", "89", "90", "91"]

# shaded temperature bands (K) per column: yellow, green, blue, orange, purple, red
BAND_COL1 = [[102.1, 114.6], [141.1, 153.7], [167.2, 179.2], [197.3, 209.7], [213.7, 226.2], [236.4, 248.7]]
BAND_COL2 = [None, None, [170.0, 182.3], [197.8, 210.2], [214.1, 226.6], [235.0, 247.2]]
BAND_COL3 = [None, None, None, None, [214.1, 226.4], [234.8, 247.1]]

PANELS = [
    (A_DATA_T, A_DATA, A_T, [A_FIT1, A_FIT2, A_FIT3], None, None, "Sum of fits"),
    (B_DATA_T, B_DATA, B_T, [B_FIT1, B_FIT2, B_FIT3, B_FIT4], None, None, "Sum of fits"),
    (C_DATA_T, C_DATA, C_T, [C_FIT1, C_FIT2, C_FIT3], None, None, "Sum of fits"),
    (D_DATA_T, D_DATA, D_T, [D_FIT1, D_FIT2], None, None, "Sum of fits"),
    (E_DATA_T, E_DATA, E_T, [E_FIT1, E_FIT2, E_FIT3, E_FIT4], None, None, "Sum of fits"),
    (F_DATA_T, F_DATA, F_T, [F_FIT1, F_FIT2, F_FIT3, F_FIT4], None, None, "Sum of fits"),
    (G_DATA_T, G_DATA, G_T, [G_FIT1, G_FIT2, G_FIT3], None, None, "Sum of fits"),
    (H_DATA_T, H_DATA, H_T, [H_FIT1, H_FIT2, H_FIT3, H_FIT4], None, None, "Sum of fits"),
    (I_DATA_T, I_DATA, I_T, [I_FIT1, I_FIT2, I_FIT3, I_FIT4, I_FIT5], None, None, "Sum of fits"),
    (J_DATA_T, J_DATA, J_T, [J_FIT1, J_FIT2, J_FIT3, J_FIT4], None, None, "Sub of fits"),
    (K_DATA_T, K_DATA, K_T, [K_FIT1, K_FIT2, K_FIT3], None, None, "Sum of fits"),
    (L_DATA_T, L_DATA, L_T, [L_FIT1, L_FIT2], None, None, "Sum of fits"),
    (M_DATA_T, M_DATA, M_T, [M_FIT1, M_FIT2], None, None, "Sum of fits"),
    (N_DATA_T, N_DATA, N_T, [N_FIT1, N_FIT2], None, None, "Sum of fits"),
    (O_DATA_T, O_DATA, O_T, [O_FIT1, O_FIT2, O_FIT3], None, None, "Sum of fits"),
    (P_DATA_T, P_DATA, None, [], P_SUM_T, P_SUM, "Sum of fits"),
    (Q_DATA_T, Q_DATA, Q_T, [Q_FIT1, Q_FIT2], None, None, "Sum of fits"),
    (R_DATA_T, R_DATA, None, [], R_SUM_T, R_SUM, "Sum of fits"),
]

# ---------------- layout geometry / styles ----------------
W, H = 1341, 1137
COL_L = [53.3, 476.7, 901.0]
COL_R = [476.7, 901.0, 1324.7]
TOP = 14.3
RH = 177.67
KEY_DY = [20.7, 43.2, 65.7]
FONT = "Liberation Sans, Arial, sans-serif"
AXC = "#262626"
TXC = "#111111"
LFS = 17.5
BLACK_W, BLUE_W, RED_W = 1.8, 1.9, 2.4
BAND_COLORS = ["rgb(255,255,0)", "rgb(0,255,0)", "rgb(0,0,255)", "rgb(255,128,0)", "rgb(128,0,128)", "rgb(255,0,0)"]

fig = go.Figure()
layout = {}
annotations = []
shapes = []

for idx, (dt, dv, grid, fits, st, sv, sum_label) in enumerate(PANELS):
    col, row = divmod(idx, 6)
    n = idx + 1
    sx = "" if n == 1 else str(n)
    xa, ya = "x" + sx, "y" + sx

    fig.add_trace(go.Scatter(x=dt, y=dv, xaxis=xa, yaxis=ya, mode="lines",
                             line=dict(color="black", width=BLACK_W),
                             name="m/z = " + MZ[idx], showlegend=False, hoverinfo="skip"))
    for f in fits:
        fig.add_trace(go.Scatter(x=grid, y=f, xaxis=xa, yaxis=ya, mode="lines",
                                 line=dict(color="#0000ff", width=BLUE_W, shape="spline", smoothing=0.6),
                                 name="Fit", showlegend=False, hoverinfo="skip"))
    if fits:
        sx_vals, sy_vals = grid, np.sum(np.array(fits, dtype=float), axis=0)
    else:
        sx_vals, sy_vals = st, sv
    fig.add_trace(go.Scatter(x=sx_vals, y=sy_vals, xaxis=xa, yaxis=ya, mode="lines",
                             line=dict(color="#ff0000", width=RED_W, shape="spline", smoothing=0.6),
                             name=sum_label, showlegend=False, hoverinfo="skip"))

    top = TOP + row * RH
    bot = top + RH
    left = COL_L[col]
    layout["xaxis" + sx] = dict(
        domain=[COL_L[col] / W, COL_R[col] / W], anchor=ya, range=[5, 300],
        showline=True, linecolor=AXC, linewidth=1.2, mirror="allticks",
        ticks="inside", ticklen=6, tickwidth=1.2, tickcolor=AXC, tick0=0, dtick=50,
        minor=dict(dtick=10, tick0=0, ticks="inside", ticklen=3.5, tickwidth=1, tickcolor=AXC),
        showgrid=False, zeroline=False, showticklabels=(row == 5),
        tickfont=dict(family=FONT, size=17, color=TXC), ticklabelstandoff=6,
    )
    layout["yaxis" + sx] = dict(
        domain=[1 - bot / H, 1 - top / H], anchor=xa, range=[0, 100],
        showline=True, linecolor=AXC, linewidth=1.2, mirror="allticks",
        ticks="inside", ticklen=5, tickwidth=1.2, tickcolor=AXC, tick0=0, dtick=25,
        minor=dict(dtick=12.5, tick0=0, ticks="inside", ticklen=3, tickwidth=1, tickcolor=AXC),
        showgrid=False, zeroline=False, showticklabels=False,
    )

    # panel letter
    annotations.append(dict(
        text=LETTERS[idx], xref="paper", yref="paper",
        x=(left + 6.5) / W, y=1 - (top + KEY_DY[0]) / H, xanchor="left", yanchor="middle",
        showarrow=False, font=dict(family=FONT, size=LFS, color=TXC),
    ))
    # legend entries (key line + label)
    entries = [("<i>m/z</i> = " + MZ[idx], "black", BLACK_W)]
    if fits:
        entries.append(("Fit", "#0000ff", BLUE_W))
    entries.append((sum_label, "#ff0000", RED_W))
    for j, (txt, colr, lw) in enumerate(entries):
        yy = 1 - (top + KEY_DY[j]) / H
        shapes.append(dict(type="line", xref="paper", yref="paper",
                           x0=(left + 25) / W, x1=(left + 50) / W, y0=yy, y1=yy,
                           line=dict(color=colr, width=lw), layer="above"))
        annotations.append(dict(
            text=txt, xref="paper", yref="paper", x=(left + 54) / W, y=yy,
            xanchor="left", yanchor="middle", showarrow=False,
            font=dict(family=FONT, size=LFS, color=TXC),
        ))

annotations.append(dict(text="Temperature (K)", xref="paper", yref="paper",
                        x=707 / W, y=1 - 1125 / H,
                        xanchor="center", yanchor="middle", showarrow=False,
                        font=dict(family=FONT, size=20, color=TXC)))
annotations.append(dict(text="Relative Intensity", xref="paper", yref="paper",
                        x=22 / W, y=1 - 548 / H,
                        xanchor="center", yanchor="middle", showarrow=False, textangle=-90,
                        font=dict(family=FONT, size=19, color=TXC)))

for col, bands in enumerate([BAND_COL1, BAND_COL2, BAND_COL3]):
    first = col * 6 + 1
    xref = "x" if first == 1 else "x" + str(first)
    for b, color in zip(bands, BAND_COLORS):
        if b is None:
            continue
        shapes.append(dict(type="rect", xref=xref, yref="paper", x0=b[0], x1=b[1],
                           y0=1 - (TOP + 6 * RH) / H, y1=1 - TOP / H,
                           fillcolor=color, opacity=0.5, line=dict(width=0), layer="above"))

fig.update_layout(
    width=W, height=H, margin=dict(l=0, r=0, t=0, b=0, autoexpand=False),
    paper_bgcolor="white", plot_bgcolor="white", showlegend=False,
    annotations=annotations, shapes=shapes, **layout,
)

# remove the default page margin so the 1341x1137 figure fills the window exactly
fig.write_html("out.html",
               config={"displayModeBar": False, "staticPlot": True},
               post_script="document.body.style.margin='0px';document.body.style.overflow='hidden';")
